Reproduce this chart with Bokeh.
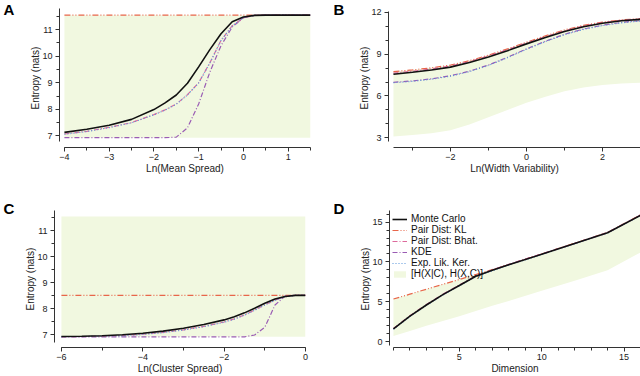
from bokeh.plotting import figure
from bokeh.models import Range1d, SingleIntervalTicker, FixedTicker, Legend, LegendItem, Title
from bokeh.layouts import column, row
from bokeh.embed import file_html
from bokeh.resources import INLINE

# ---------------- data ----------------
# Panel A: Ln(Mean Spread)
a_x = [-4, -3.5, -3, -2.5, -2, -1.75, -1.5, -1.25, -1, -0.75, -0.5, -0.25, 0, 0.25, 0.5, 1.0, 1.5]
a_mc = [7.13, 7.25, 7.40, 7.62, 7.99, 8.24, 8.54, 8.98, 9.60, 10.25, 10.85, 11.30, 11.48, 11.54, 11.55, 11.55, 11.55]
a_kl = [11.55] * 17
a_bhat = [7.07, 7.17, 7.32, 7.50, 7.80, 7.98, 8.20, 8.55, 9.00, 9.75, 10.60, 11.15, 11.45, 11.54, 11.55, 11.55, 11.55]
a_kde = [6.93, 6.93, 6.93, 6.93, 6.93, 6.93, 6.95, 7.30, 8.20, 9.40, 10.40, 11.10, 11.45, 11.54, 11.55, 11.55, 11.55]
a_elk = [7.06, 7.16, 7.31, 7.49, 7.79, 7.97, 8.19, 8.54, 8.99, 9.74, 10.59, 11.14, 11.45, 11.54, 11.55, 11.55, 11.55]
a_low = [6.93] * 17
a_high = [11.55] * 17

# Panel B: Ln(Width Variability)
b_x = [-3.5, -3, -2.5, -2, -1.5, -1, -0.5, 0, 0.5, 1, 1.5, 2, 2.5, 3]
b_mc = [7.56, 7.70, 7.86, 8.07, 8.40, 8.80, 9.25, 9.74, 10.20, 10.63, 10.97, 11.22, 11.40, 11.50]
b_kl = [7.75, 7.87, 8.02, 8.22, 8.53, 8.93, 9.38, 9.86, 10.32, 10.74, 11.07, 11.30, 11.46, 11.56]
b_bhat = [7.64, 7.78, 7.94, 8.15, 8.47, 8.87, 9.32, 9.80, 10.26, 10.68, 11.02, 11.26, 11.43, 11.53]
b_kde = [6.98, 7.08, 7.23, 7.45, 7.78, 8.22, 8.78, 9.38, 9.93, 10.43, 10.81, 11.08, 11.28, 11.41]
b_elk = [6.95, 7.05, 7.20, 7.42, 7.75, 8.19, 8.75, 9.35, 9.90, 10.40, 10.78, 11.05, 11.25, 11.38]
b_low = [3.09, 3.20, 3.33, 3.53, 3.95, 4.47, 5.00, 5.51, 5.95, 6.33, 6.60, 6.79, 6.90, 6.95]

# Panel C: Ln(Cluster Spread)
c_x = [-6, -5.5, -5, -4.5, -4, -3.5, -3, -2.5, -2, -1.75, -1.5, -1.25, -1, -0.75, -0.5, -0.25, 0]
c_mc = [6.94, 6.95, 6.97, 7.01, 7.07, 7.15, 7.26, 7.40, 7.58, 7.70, 7.85, 8.03, 8.22, 8.38, 8.48, 8.52, 8.52]
c_kl = [8.52] * 17
c_bhat = [6.93, 6.94, 6.95, 6.98, 7.03, 7.10, 7.20, 7.33, 7.50, 7.62, 7.77, 7.96, 8.16, 8.34, 8.47, 8.52, 8.52]
c_kde = [6.93, 6.93, 6.93, 6.93, 6.93, 6.93, 6.93, 6.93, 6.93, 6.93, 6.93, 7.00, 7.30, 8.15, 8.50, 8.52, 8.52]
c_elk = [6.93, 6.94, 6.95, 6.97, 7.02, 7.09, 7.19, 7.32, 7.49, 7.61, 7.76, 7.95, 8.15, 8.33, 8.47, 8.52, 8.52]
c_low = [6.93] * 17
c_high = [11.55] * 17

# Panel D: Dimension
d_x = [1, 2, 3, 4, 5, 6, 7, 8, 10, 12, 14, 16]
d_mc = [1.60, 3.20, 4.60, 5.90, 7.05, 8.20, 8.95, 9.65, 10.95, 12.30, 13.65, 15.85]
d_kl = [5.35, 5.96, 6.58, 7.19, 7.80, 8.42, 9.03, 9.65, 11.00, 12.35, 13.70, 15.90]
d_bhat = [1.65, 3.25, 4.65, 5.95, 7.10, 8.25, 9.00, 9.70, 11.00, 12.33, 13.68, 15.88]
d_kde = [1.62, 3.22, 4.62, 5.92, 7.07, 8.22, 8.97, 9.67, 10.97, 12.31, 13.66, 15.86]
d_elk = [1.55, 3.15, 4.55, 5.85, 7.00, 8.15, 8.90, 9.60, 10.92, 12.28, 13.63, 15.83]
d_low = [0.70, 1.35, 2.00, 2.60, 3.20, 3.85, 4.50, 5.10, 6.40, 7.65, 8.95, 11.20]

names = ["Monte Carlo", "Pair Dist: KL", "Pair Dist: Bhat.", "KDE", "Exp. Lik. Ker.", "[H(X|C), H(X,C)]"]

# ---------------- style ----------------
FONT = "Liberation Sans"
FILL = "#f1f8e0"
C_MC = "#111111"
C_KL = "#e8664a"
C_BH = "#dd6a9c"
C_KDE = "#9a5cb4"
C_ELK = "#5b96dc"
AX = "#333333"


def make_fig(w, h, xr, yr, xb, yb, xt, yt, xlabel, ylabel, mb):
    p = figure(width=w, height=h, x_range=Range1d(*xr), y_range=Range1d(*yr),
               output_backend="svg", toolbar_location=None,
               min_border_left=mb[0], min_border_right=mb[1],
               min_border_top=mb[2], min_border_bottom=mb[3])
    p.grid.visible = False
    p.outline_line_color = None
    for ax, b, t, lab in ((p.xaxis[0], xb, xt, xlabel), (p.yaxis[0], yb, yt, ylabel)):
        ax.bounds = b
        ax.ticker = t
        ax.axis_label = lab
        ax.axis_line_color = AX
        ax.major_tick_line_color = AX
        ax.minor_tick_line_color = AX
        ax.major_tick_in = 0
        ax.major_tick_out = 4
        ax.minor_tick_in = 0
        ax.minor_tick_out = 3
        ax.major_label_text_font = FONT
        ax.major_label_text_font_size = "9px"
        ax.major_label_text_color = "#222222"
        ax.axis_label_text_font = FONT
        ax.axis_label_text_font_size = "10px"
        ax.axis_label_text_font_style = "normal"
        ax.axis_label_text_color = "#222222"
    p.xaxis.major_label_standoff = 2
    p.xaxis.axis_label_standoff = 0
    p.yaxis.major_label_standoff = 3
    p.yaxis.axis_label_standoff = -2
    return p


def draw(p, x, mc, kl, bh, kde, elk, low, high):
    r_fill = p.varea(x=x, y1=low, y2=high, fill_color=FILL)
    r_kl = p.line(x, kl, line_color=C_KL, line_width=1.2, line_dash="6 2 1 2 1 2")
    r_kde = p.line(x, kde, line_color=C_KDE, line_width=1.2, line_dash="5 2 1 2")
    r_bh = p.line(x, bh, line_color=C_BH, line_width=1.2, line_dash="5 2 1 2")
    r_elk = p.line(x, elk, line_color=C_ELK, line_width=1.2, line_dash="1 2")
    r_mc = p.line(x, mc, line_color=C_MC, line_width=1.6)
    return [r_mc, r_kl, r_bh, r_kde, r_elk, r_fill]


def letter(p, t, offset, standoff):
    p.add_layout(Title(text=t, align="left", offset=offset, standoff=standoff,
                       text_font=FONT, text_font_style="bold", text_font_size="15px",
                       text_color="#000000"), "above")


pA = make_fig(320, 176, (-4.11, 1.5), (6.56, 11.8), (-4, 1.5), (6.78, 11.8),
              SingleIntervalTicker(interval=1, num_minor_ticks=2),
              SingleIntervalTicker(interval=1, num_minor_ticks=2),
              "Ln(Mean Spread)", "Entropy (nats)", (59, 10, 8, 20))
draw(pA, a_x, a_mc, a_kl, a_bhat, a_kde, a_elk, a_low, a_high)
letter(pA, "A", -56, -19)

pB = make_fig(320, 176, (-3.63, 3), (2.3, 12.28), (-3.5, 3), (2.75, 12.05),
              FixedTicker(ticks=[-2, 0, 2], minor_ticks=[-3, -1, 1, 3]),
              SingleIntervalTicker(interval=3, num_minor_ticks=3),
              "Ln(Width Variability)", "Entropy (nats)", (68, 0, 8, 20))
draw(pB, b_x, b_mc, b_kl, b_bhat, b_kde, b_elk, b_low, b_kl)
letter(pB, "B", -55, -19)

pC = make_fig(320, 200, (-6.17, 0), (6.52, 11.78), (-6, 0), (6.7, 11.78),
              SingleIntervalTicker(interval=2, num_minor_ticks=2),
              SingleIntervalTicker(interval=1, num_minor_ticks=2),
              "Ln(Cluster Spread)", "Entropy (nats)", (54, 15, 34, 20))
draw(pC, c_x, c_mc, c_kl, c_bhat, c_kde, c_elk, c_low, c_high)
letter(pC, "C", -51, -12)

pD = make_fig(320, 200, (0.76, 16), (-0.73, 16.45), (1, 16), (-0.5, 16.45),
              SingleIntervalTicker(interval=5, num_minor_ticks=5),
              SingleIntervalTicker(interval=5, num_minor_ticks=5),
              "Dimension", "Entropy (nats)", (69, 0, 34, 20))
rs = draw(pD, d_x, d_mc, d_kl, d_bhat, d_kde, d_elk, d_low, d_kl)
letter(pD, "D", -56, -12)

legend = Legend(items=[LegendItem(label=n, renderers=[r]) for n, r in zip(names, rs)],
                location="top_left", margin=3, padding=0, spacing=0,
                label_text_font=FONT, label_text_font_size="10px", label_text_color="#111111",
                label_text_line_height=0.8,
                label_height=8, glyph_height=8, glyph_width=15, label_standoff=4,
                background_fill_alpha=0, border_line_alpha=0)
pD.add_layout(legend, "center")

layout = column(row(pA, pB, spacing=0), row(pC, pD, spacing=0), spacing=0)
open("out.html", "w").write(file_html(layout, INLINE))
